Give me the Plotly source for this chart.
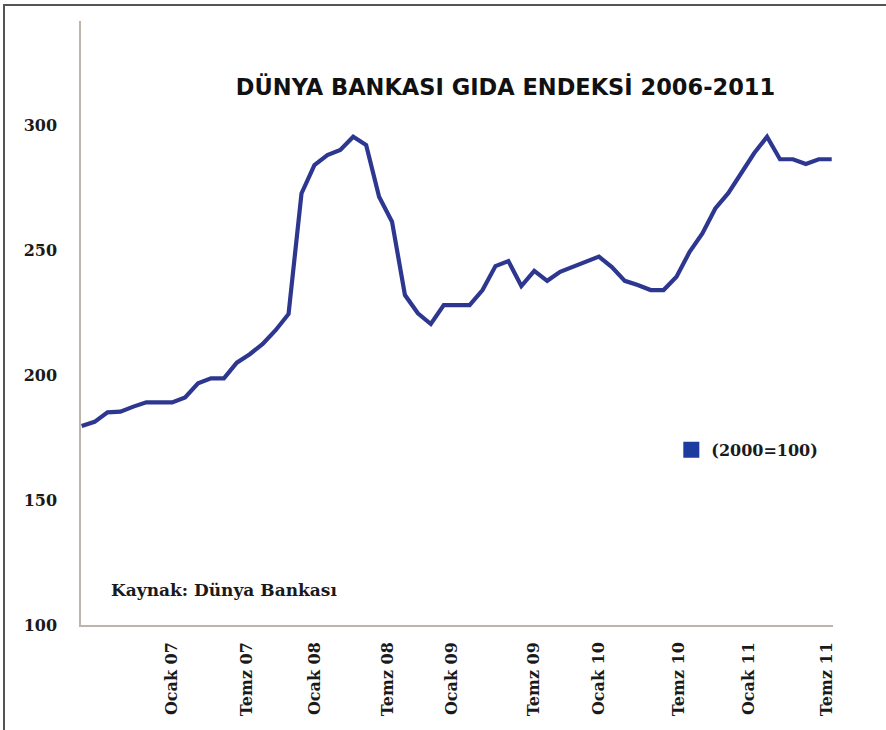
import plotly.graph_objects as go

# World Bank food index (2000=100), monthly points
food_index = [179.7, 181.4, 185.2, 185.5, 187.5, 189.2, 189.2, 189.2, 191.2, 196.8,
              198.8, 198.8, 205.1, 208.5, 212.6, 218.1, 224.6, 272.9, 284.3, 288.3,
              290.3, 295.6, 292.3, 271.6, 261.6, 232.2, 224.9, 220.6, 228.2, 228.2,
              228.2, 234.2, 243.8, 245.8, 235.8, 241.9, 237.9, 241.5, 243.5, 245.5,
              247.6, 243.4, 237.9, 236.2, 234.2, 234.2, 239.5, 249.4, 256.9, 266.9,
              273.0, 281.0, 289.0, 295.6, 286.6, 286.6, 284.7, 286.6, 286.6]
month_idx = list(range(len(food_index)))

tick_pos = [7, 12.75, 18, 23.7, 28.6, 35, 40, 46.2, 51.6, 57.6]
tick_text = ["Ocak 07", "Temz 07", "Ocak 08", "Temz 08", "Ocak 09",
             "Temz 09", "Ocak 10", "Temz 10", "Ocak 11", "Temz 11"]
y_ticks = [100, 150, 200, 250, 300]

title_text = "DÜNYA BANKASI GIDA ENDEKSİ 2006-2011"
source_text = "Kaynak: Dünya Bankası"
legend_text = "(2000=100)"

serif = dict(family="DejaVu Serif", size=16, color="#1a1a1a", weight="bold")

fig = go.Figure()
fig.add_trace(go.Scatter(
    x=month_idx, y=food_index, mode="lines",
    line=dict(color="#2E3790", width=4.2),
    showlegend=False, name=legend_text,
))
fig.add_trace(go.Scatter(
    x=[None], y=[None], mode="markers",
    marker=dict(symbol="square", size=16, color="#1E3BA0"),
    name=legend_text, showlegend=True,
))

fig.update_layout(
    width=886, height=730,
    margin=dict(l=81, r=53, t=21, b=105),
    paper_bgcolor="white", plot_bgcolor="white",
    title=dict(text=title_text, x=505.5 / 886, xanchor="center",
               y=1 - 87 / 730, yanchor="middle",
               font=dict(family="DejaVu Sans", size=22.5, color="#111111", weight="bold")),
    legend=dict(x=0.785, y=0.29, xanchor="left", yanchor="middle",
                bgcolor="rgba(0,0,0,0)", font=serif, itemsizing="trace"),
    xaxis=dict(range=[-0.05, 58.1], tickmode="array", tickvals=tick_pos,
               ticktext=tick_text, tickangle=-90, tickfont=serif,
               showgrid=False, zeroline=False, showline=True,
               linecolor="#bdb4ac", linewidth=1.5, ticks="", ticklabelstandoff=9),
    yaxis=dict(range=[100, 342], tickmode="array", tickvals=y_ticks,
               tickfont=serif, showgrid=False, zeroline=False, showline=True,
               linecolor="#bdb4ac", linewidth=1.5, ticks="", ticklabelstandoff=19),
    annotations=[dict(text=source_text, xref="paper", yref="paper",
                      x=(109 - 81) / 752, y=(625 - 590) / 604,
                      xanchor="left", yanchor="middle", showarrow=False,
                      font=dict(family="DejaVu Serif", size=17, color="#1a1a1a", weight="bold"))],
    shapes=[dict(type="rect", xref="paper", yref="paper",
                 x0=(4 - 81) / 752, x1=(892 - 81) / 752,
                 y0=(625 - 740) / 604, y1=(625 - 5) / 604,
                 line=dict(color="#555555", width=2), layer="below")],
)

fig.write_html("out.html",
               config={"displayModeBar": False},
               post_script="document.body.style.margin='0';document.body.style.overflow='hidden';")
